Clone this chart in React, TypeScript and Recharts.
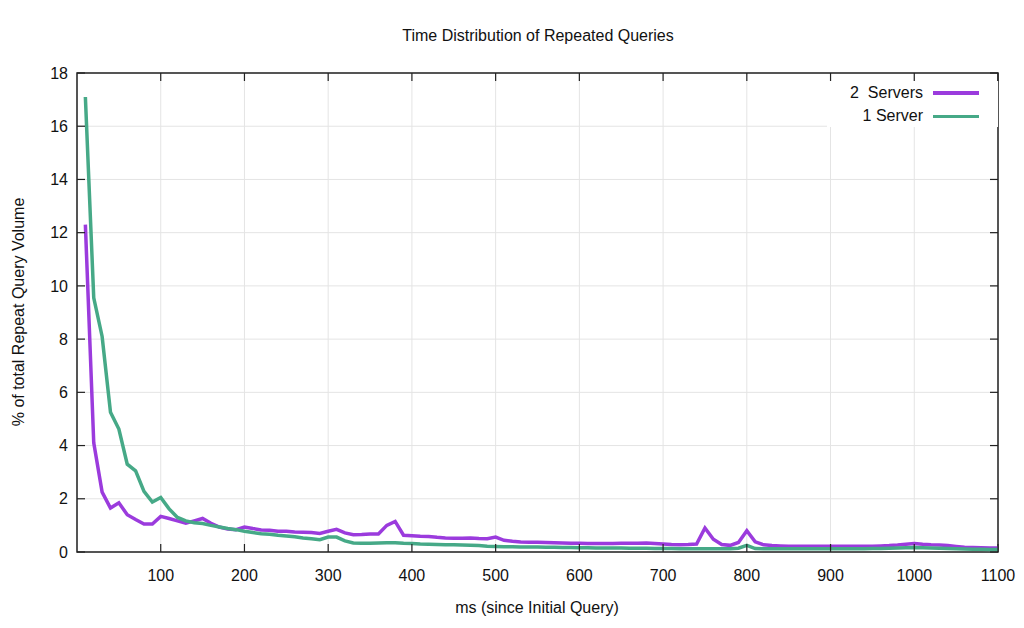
import { CartesianGrid, Legend, Line, LineChart, ReferenceArea, XAxis, YAxis } from 'recharts'

// ms since the initial query, one sample every 10 ms
const ms = [
  10, 20, 30, 40, 50, 60, 70, 80, 90, 100,
  110, 120, 130, 140, 150, 160, 170, 180, 190, 200,
  210, 220, 230, 240, 250, 260, 270, 280, 290, 300,
  310, 320, 330, 340, 350, 360, 370, 380, 390, 400,
  410, 420, 430, 440, 450, 460, 470, 480, 490, 500,
  510, 520, 530, 540, 550, 560, 570, 580, 590, 600,
  610, 620, 630, 640, 650, 660, 670, 680, 690, 700,
  710, 720, 730, 740, 750, 760, 770, 780, 790, 800,
  810, 820, 830, 840, 850, 860, 870, 880, 890, 900,
  910, 920, 930, 940, 950, 960, 970, 980, 990, 1000,
  1010, 1020, 1030, 1040, 1050, 1060, 1070, 1080, 1090, 1100,
]

const twoServers = [
  12.3, 4.1, 2.25, 1.65, 1.85, 1.4, 1.22, 1.05, 1.05, 1.34,
  1.26, 1.17, 1.08, 1.17, 1.26, 1.08, 0.94, 0.86, 0.84, 0.94,
  0.88, 0.83, 0.82, 0.78, 0.78, 0.75, 0.74, 0.73, 0.7, 0.78,
  0.85, 0.72, 0.65, 0.66, 0.68, 0.68, 1.0, 1.15, 0.63, 0.61,
  0.59, 0.58, 0.55, 0.53, 0.52, 0.52, 0.53, 0.51, 0.5, 0.56,
  0.44, 0.4, 0.38, 0.37, 0.37, 0.36, 0.35, 0.34, 0.33, 0.33,
  0.32, 0.32, 0.32, 0.32, 0.33, 0.33, 0.33, 0.34, 0.32, 0.3,
  0.28, 0.27, 0.28, 0.3, 0.9, 0.48, 0.28, 0.25, 0.36, 0.8,
  0.38, 0.27, 0.24, 0.23, 0.22, 0.22, 0.22, 0.22, 0.22, 0.22,
  0.22, 0.22, 0.22, 0.22, 0.22, 0.23, 0.24, 0.26, 0.29, 0.32,
  0.29, 0.27, 0.26, 0.24, 0.21, 0.18, 0.17, 0.16, 0.15, 0.15,
]

const oneServer = [
  17.1, 9.55, 8.1, 5.25, 4.62, 3.3, 3.05, 2.28, 1.88, 2.05,
  1.62, 1.3, 1.17, 1.1, 1.07, 1.0, 0.94, 0.88, 0.84, 0.78,
  0.73, 0.69, 0.67, 0.63, 0.6, 0.57, 0.53, 0.5, 0.46, 0.56,
  0.56, 0.42, 0.34, 0.33, 0.33, 0.34, 0.35, 0.35, 0.33, 0.32,
  0.3, 0.29, 0.28, 0.27, 0.27, 0.26, 0.25, 0.24, 0.22, 0.21,
  0.2, 0.2, 0.19, 0.19, 0.19, 0.18, 0.18, 0.17, 0.17, 0.16,
  0.16, 0.15, 0.15, 0.15, 0.15, 0.14, 0.14, 0.14, 0.13, 0.13,
  0.13, 0.12, 0.12, 0.12, 0.12, 0.12, 0.12, 0.12, 0.14, 0.25,
  0.13, 0.12, 0.12, 0.12, 0.12, 0.12, 0.12, 0.12, 0.12, 0.12,
  0.12, 0.12, 0.12, 0.12, 0.13, 0.13, 0.14, 0.15, 0.16, 0.17,
  0.16, 0.15, 0.14, 0.13, 0.12, 0.11, 0.1, 0.1, 0.09, 0.09,
]

const xTicks = [100, 200, 300, 400, 500, 600, 700, 800, 900, 1000, 1100]
const yTicks = [0, 2, 4, 6, 8, 10, 12, 14, 16, 18]

const series = [
  { key: 'two', name: '2  Servers', color: '#9b3bdd' },
  { key: 'one', name: '1 Server', color: '#46a987' },
]

const FONT = '"Liberation Sans", Arial, sans-serif'
const INK = '#111'
const BORDER = '#222'
const W = 1024
const H = 628
const M = { top: 73, right: 26, bottom: 36, left: 17 }
const PLOT_TOP = M.top
const PLOT_RIGHT = W - M.right
const TICK = 8

const rows = ms.map((m, i) => ({ ms: m, two: twoServers[i], one: oneServer[i] }))

// gnuplot-style ticks: pointing inward, mirrored on top/right
function XTick({ x, y, payload }: any) {
  return (
    <g>
      <line x1={x} y1={y} x2={x} y2={y - TICK} stroke={BORDER} strokeWidth={1.2} />
      <line x1={x} y1={PLOT_TOP} x2={x} y2={PLOT_TOP + TICK} stroke={BORDER} strokeWidth={1.2} />
      <text x={x} y={y + 29} textAnchor="middle" fontSize={16} fontFamily={FONT} fill={INK}>
        {payload.value}
      </text>
    </g>
  )
}

function YTick({ x, y, payload }: any) {
  return (
    <g>
      <line x1={x} y1={y} x2={x + TICK} y2={y} stroke={BORDER} strokeWidth={1.2} />
      <line x1={PLOT_RIGHT} y1={y} x2={PLOT_RIGHT - TICK} y2={y} stroke={BORDER} strokeWidth={1.2} />
      <text x={x - 9} y={y + 5.7} textAnchor="end" fontSize={16} fontFamily={FONT} fill={INK}>
        {payload.value}
      </text>
    </g>
  )
}

function KeyBox() {
  return (
    <div style={{ background: '#fff', width: 171, height: 46, fontFamily: FONT, fontSize: 16, color: INK }}>
      {series.map((s) => (
        <div
          key={s.key}
          style={{ display: 'flex', justifyContent: 'flex-end', alignItems: 'center', height: 23.5, paddingRight: 19 }}
        >
          <span style={{ whiteSpace: 'pre' }}>{s.name}</span>
          <span style={{ display: 'inline-block', width: 46, height: 3.5, background: s.color, marginLeft: 10 }} />
        </div>
      ))}
    </div>
  )
}

export default function App() {
  return (
    <div style={{ position: 'absolute', left: 0, top: 0, width: W, height: H, background: '#fff' }}>
      <LineChart width={W} height={H} data={rows} margin={M}>
        <CartesianGrid stroke="#e4e4e4" strokeWidth={1} />
        <XAxis
          dataKey="ms"
          type="number"
          domain={[0, 1100]}
          ticks={xTicks}
          interval={0}
          allowDataOverflow
          axisLine={false}
          tickLine={false}
          tickSize={0}
          tickMargin={0}
          height={40}
          tick={(p: any) => <XTick {...p} />}
        />
        <YAxis
          type="number"
          domain={[0, 18]}
          ticks={yTicks}
          interval={0}
          allowDataOverflow
          axisLine={false}
          tickLine={false}
          tickSize={0}
          tickMargin={0}
          width={60}
          tick={(p: any) => <YTick {...p} />}
        />
        <ReferenceArea x1={0} x2={1100} y1={0} y2={18} fill="none" fillOpacity={0} stroke={BORDER} strokeWidth={1.5} />
        {series.map((s) => (
          <Line
            key={s.key}
            type="linear"
            dataKey={s.key}
            name={s.name}
            stroke={s.color}
            strokeWidth={3.5}
            dot={false}
            activeDot={false}
            isAnimationActive={false}
          />
        ))}
        <Legend
          layout="vertical"
          align="center"
          verticalAlign="middle"
          content={() => <KeyBox />}
          wrapperStyle={{ left: 827, top: 81, width: 171 }}
        />
      </LineChart>
      <svg
        width={W}
        height={H}
        style={{ position: 'absolute', left: 0, top: 0, pointerEvents: 'none' }}
        fontFamily={FONT}
        fill={INK}
        fontSize={16}
      >
        <text x={538} y={41} textAnchor="middle">
          Time Distribution of Repeated Queries
        </text>
        <text x={537} y={613} textAnchor="middle">
          ms (since Initial Query)
        </text>
        <text x={24} y={312} textAnchor="middle" transform="rotate(-90 24 312)">
          % of total Repeat Query Volume
        </text>
      </svg>
    </div>
  )
}
